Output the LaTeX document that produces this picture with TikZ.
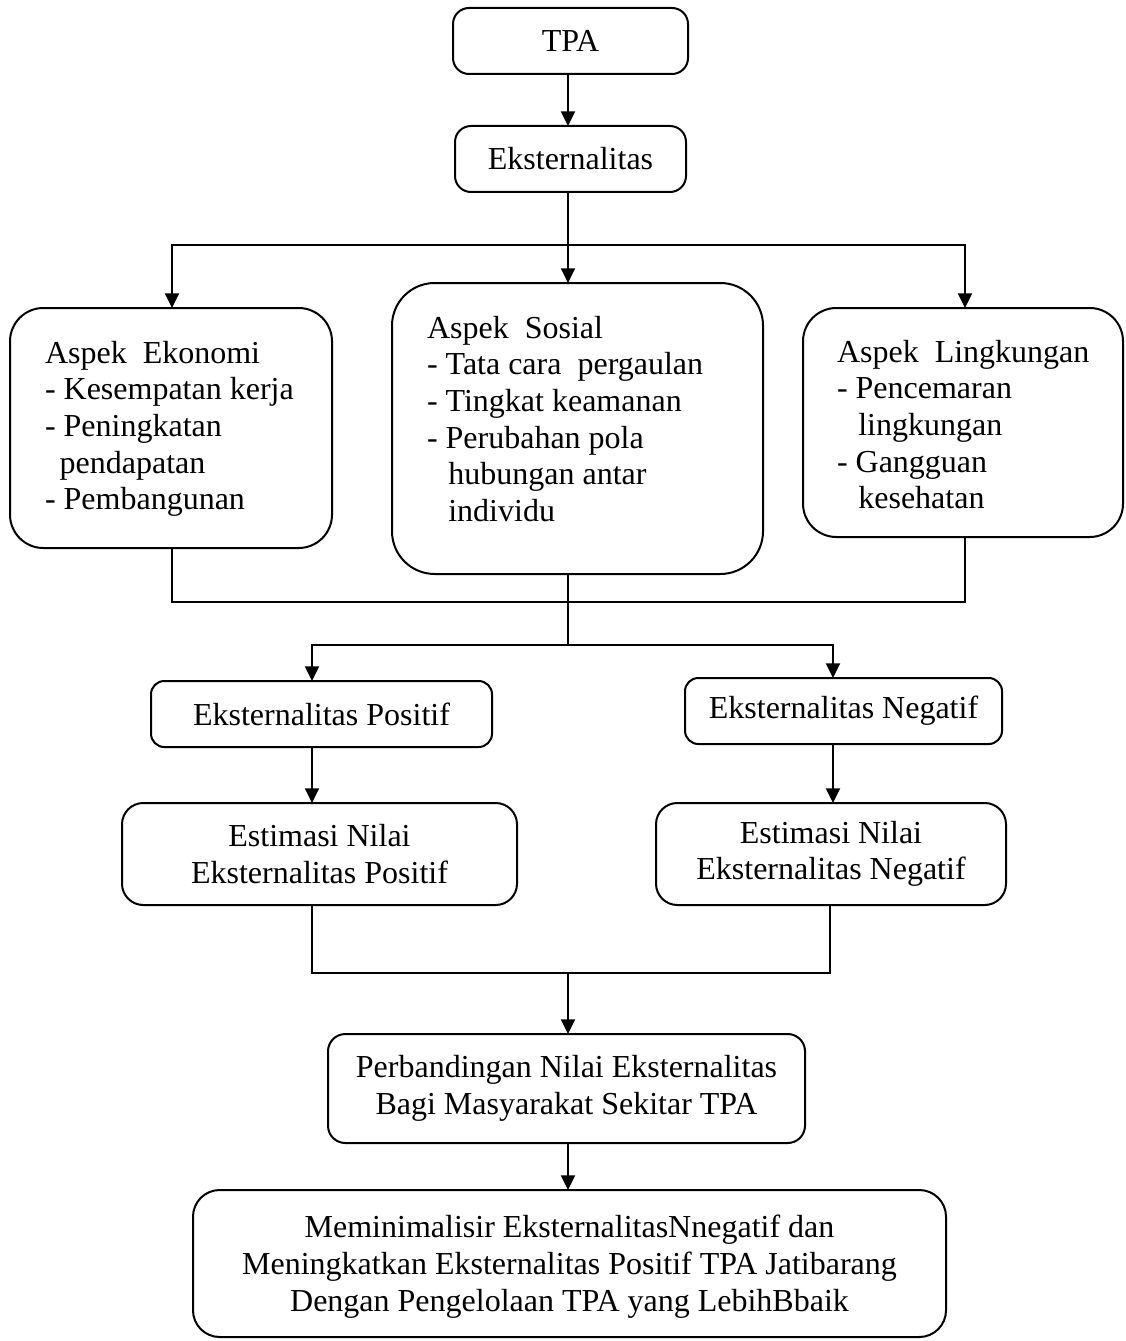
\documentclass[tikz,border=0pt]{standalone}
\usepackage{fontspec}
\setmainfont{Liberation Serif}
\usetikzlibrary{arrows.meta}
\begin{document}
\begin{tikzpicture}[x=0.75pt,y=-0.75pt,
  every node/.style={font=\fontsize{24}{27.5}\selectfont},
  box/.style={draw,line width=1.5pt,inner sep=0pt,outer sep=0pt,align=center},
  txt/.style={inner sep=0pt,outer sep=0pt,align=left,anchor=north west},
  ln/.style={line width=1.5pt},
  arr/.style={line width=1.5pt,-{Triangle[length=11pt,width=10.5pt]}}]
\useasboundingbox (0,0) rectangle (1125,1341);
% boxes
\node[box,rounded corners=12pt,minimum width=176.25pt,minimum height=49.5pt] (tpa) at (570.5,41) {TPA};
\node[box,rounded corners=12pt,minimum width=173.25pt,minimum height=49.5pt] (eks) at (570.5,159) {Eksternalitas};
\node[box,rounded corners=25pt,minimum width=241.5pt,minimum height=180pt] (eko) at (171,428) {};
\node[box,rounded corners=32pt,minimum width=278.25pt,minimum height=218.25pt] (sos) at (577.5,428.5) {};
\node[box,rounded corners=25pt,minimum width=240pt,minimum height=171.75pt] (lin) at (963,422.5) {};
\node[box,rounded corners=10pt,minimum width=255.75pt,minimum height=49.5pt] (pos) at (321.5,714) {Eksternalitas Positif};
\node[box,rounded corners=10pt,minimum width=237.75pt,minimum height=49.5pt] (neg) at (843.5,711) {Eksternalitas Negatif};
\node[box,rounded corners=16pt,minimum width=296.25pt,minimum height=76.5pt] (epos) at (319.5,854) {Estimasi Nilai\\Eksternalitas Positif};
\node[box,rounded corners=16pt,minimum width=262.5pt,minimum height=76.5pt] (eneg) at (831,854) {Estimasi Nilai\\Eksternalitas Negatif};
\node[box,rounded corners=13pt,minimum width=357.75pt,minimum height=81.75pt] (per) at (566.5,1088.5) {Perbandingan Nilai Eksternalitas\\Bagi Masyarakat Sekitar TPA};
\node[box,rounded corners=20pt,minimum width=564.75pt,minimum height=110.25pt] (fin) at (569.5,1263.5) {\\[-6pt]Meminimalisir EksternalitasNnegatif dan\\Meningkatkan Eksternalitas Positif TPA Jatibarang\\Dengan Pengelolaan TPA yang LebihBbaik};
% left-aligned texts
\node[txt] (ekoT) at (45,341) {Aspek\ \ Ekonomi\\- Kesempatan kerja\\- Peningkatan\\\hspace*{11pt}pendapatan\\- Pembangunan};
\node[txt] (sosT) at (427,316) {Aspek\ \ Sosial\\- Tata cara\ \ pergaulan\\- Tingkat keamanan\\- Perubahan pola\\\hspace*{16pt}hubungan antar\\\hspace*{16pt}individu};
\node[txt] (linT) at (837,340) {Aspek\ \ Lingkungan\\- Pencemaran\\\hspace*{16pt}lingkungan\\- Gangguan\\\hspace*{16pt}kesehatan};
% junctions
\coordinate (j1) at (568,245);
\coordinate (j2) at (568,602);
\coordinate (j3) at (568,645);
\coordinate (j4) at (568,973);
\coordinate (xl) at (172,0);
\coordinate (xr) at (965,0);
\coordinate (xp) at (312,0);
\coordinate (xn) at (833,0);
% connectors
\draw[arr] (j1 |- tpa.south) -- (j1 |- eks.north);
\draw[arr] (j1 |- eks.south) -- (j1 |- sos.north);
\draw[arr] (j1) -| (xl |- eko.north);
\draw[arr] (j1) -| (xr |- lin.north);
\draw[ln] (xl |- eko.south) |- (xr |- j2) -- (xr |- lin.south);
\draw[ln] (j2 |- sos.south) -- (j3);
\draw[arr] (j3) -| (xp |- pos.north);
\draw[arr] (j3) -| (xn |- neg.north);
\draw[arr] (xp |- pos.south) -- (xp |- epos.north);
\draw[arr] (xn |- neg.south) -- (xn |- eneg.north);
\draw[ln] (xp |- epos.south) |- (j4) -| ([xshift=-2pt]xn |- eneg.south);
\draw[arr] (j4) -- (j4 |- per.north);
\draw[arr] (j4 |- per.south) -- (j4 |- fin.north);
\end{tikzpicture}
\end{document}
